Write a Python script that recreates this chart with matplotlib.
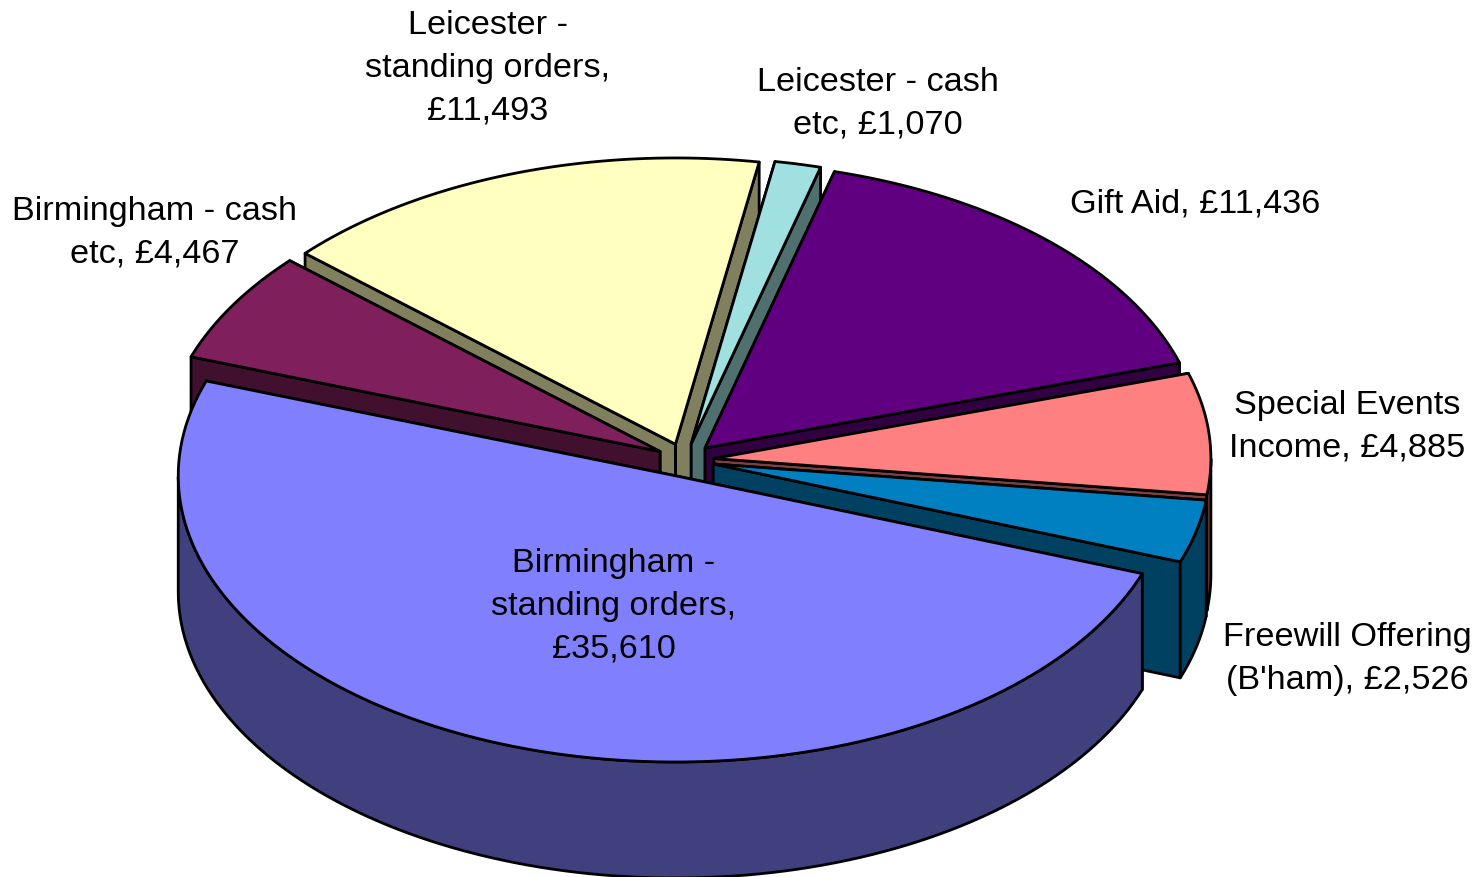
import numpy as np
import matplotlib
matplotlib.use('Agg')
import matplotlib.pyplot as plt
from matplotlib.patches import Polygon

# Data, clockwise from the big front slice
names = ['Birmingham -\nstanding orders,\n£35,610', 'Birmingham - cash\netc, £4,467',
         'Leicester -\nstanding orders,\n£11,493', 'Leicester - cash\netc, £1,070',
         'Gift Aid, £11,436', 'Special Events\nIncome, £4,885', "Freewill Offering\n(B'ham), £2,526"]
values = [35610, 4467, 11493, 1070, 11436, 4885, 2526]
top_colors = ['#8080FF', '#7F1F5C', '#FFFFC0', '#A0E0E0', '#600080', '#FF8080', '#0080C0']
side_colors = ['#40407F', '#40102E', '#80805F', '#507070', '#300040', '#804040', '#004060']

# Label centres in pixels
label_x = [614, 155, 488, 878, 1195, 1347, 1347]
label_y = [606, 233, 68, 104, 204, 427, 659]

# Pie geometry in pixels
cx, cy = 685, 460
R = 497
tilt = 0.576
depth = 116
explode = 29
start_angle = -20
# painter order: back slices first, front slice last
draw_order = [2, 1, 3, 4, 5, 6, 0]


def project(t, r, ox, oy):
    return ox + r * np.cos(t), oy - r * tilt * np.sin(t)


def draw_slice(ax, a1, a2, top, side):
    # a1 > a2, going clockwise
    mid = np.radians((a1 + a2) / 2)
    ox = cx + explode * np.cos(mid)
    oy = cy - explode * tilt * np.sin(mid)
    t = np.radians(np.linspace(a1, a2, 120))
    x, y = project(t, R, ox, oy)
    style = dict(edgecolor='black', linewidth=2.0, joinstyle='round')
    # the two flat cut faces, the one further back first
    ends = [0, -1] if y[0] < y[-1] else [-1, 0]
    for i in ends:
        face = [(ox, oy), (x[i], y[i]), (x[i], y[i] + depth), (ox, oy + depth)]
        ax.add_patch(Polygon(face, closed=True, facecolor=side, **style))
    # outer wall, only the part turned to the viewer
    front = np.sin(t) <= 0
    if front.any():
        xf, yf = x[front], y[front]
        wall = np.column_stack([np.r_[xf, xf[::-1]], np.r_[yf, yf[::-1] + depth]])
        ax.add_patch(Polygon(wall, closed=True, facecolor=side, **style))
    ax.add_patch(Polygon(np.column_stack([np.r_[ox, x], np.r_[oy, y]]), closed=True, facecolor=top, **style))


fig = plt.figure(figsize=(14.77, 8.77), dpi=100)
ax = fig.add_axes([0, 0, 1, 1])
ax.set_xlim(0, 1477)
ax.set_ylim(877, 0)
ax.axis('off')

spans = np.array(values) / sum(values) * 360
edges = start_angle - np.r_[0, np.cumsum(spans)]
for i in draw_order:
    draw_slice(ax, edges[i], edges[i + 1], top_colors[i], side_colors[i])

for name, lx, ly in zip(names, label_x, label_y):
    ax.text(lx, ly, name, ha='center', va='center', fontsize=34.3 * 72 / 100,
            family='Liberation Sans', linespacing=1.48, color='black')

fig.savefig('out.png', dpi=100)
